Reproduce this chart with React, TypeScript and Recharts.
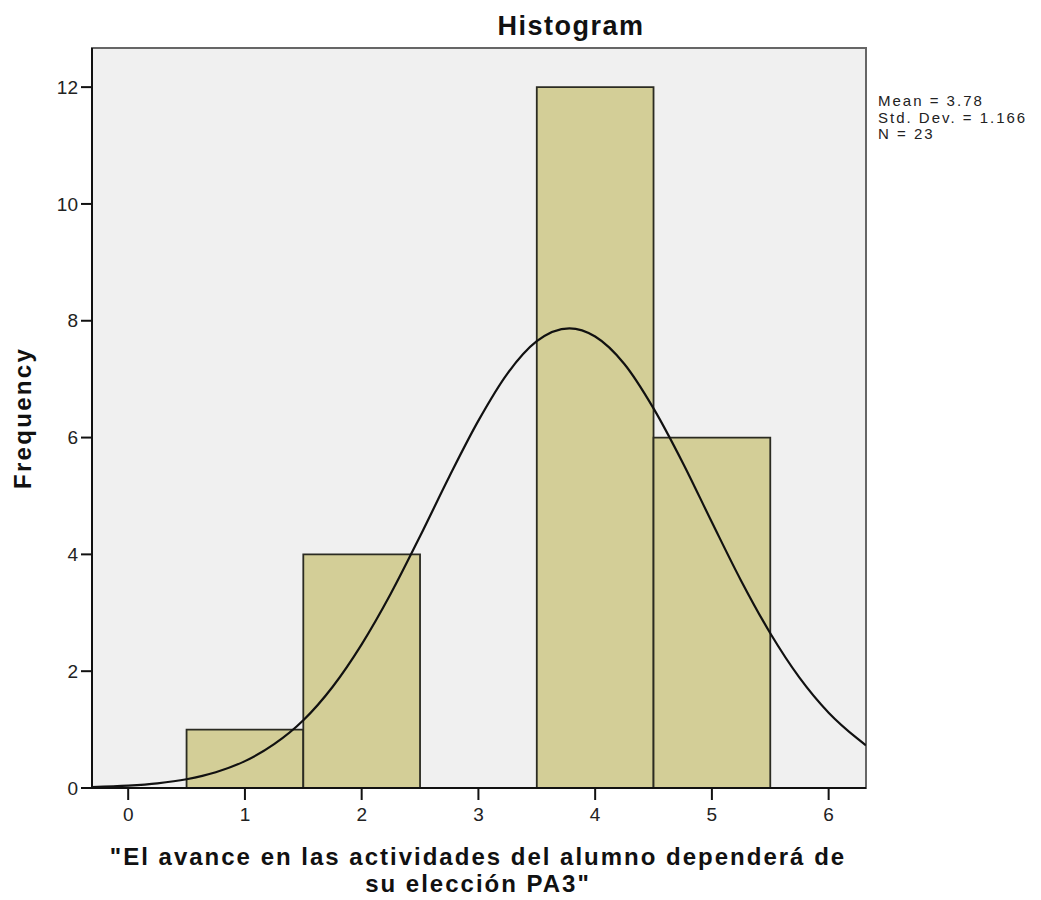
import React from "react";
import {
  ComposedChart,
  Line,
  XAxis,
  YAxis,
  ReferenceArea,
} from "recharts";

// Histogram bins (bin centre, frequency)
const binCenters = [1, 2, 3, 4, 5];
const frequencies = [1, 4, 0, 12, 6];
const binWidth = 1;

// Normal curve (x value, frequency)
const curveX = [
  -0.31, 0, 0.25, 0.5, 0.75, 1, 1.25, 1.5, 1.75, 2, 2.25, 2.5, 2.75, 3, 3.25,
  3.5, 3.78, 4, 4.25, 4.5, 4.75, 5, 5.25, 5.5, 5.75, 6, 6.25, 6.32,
];
const curveY = [
  0.017, 0.041, 0.08, 0.15, 0.27, 0.46, 0.75, 1.16, 1.73, 2.46, 3.33, 4.31,
  5.33, 6.29, 7.1, 7.65, 7.87, 7.73, 7.26, 6.5, 5.57, 4.55, 3.55, 2.65, 1.89,
  1.29, 0.84, 0.73,
];

const xTicks = [0, 1, 2, 3, 4, 5, 6];
const yTicks = [0, 2, 4, 6, 8, 10, 12];
const xDomain: [number, number] = [-0.31, 6.32];
const yDomain: [number, number] = [0, 12.67];

const title = "Histogram";
const xLabelLines = [
  "\"El avance en las actividades del alumno dependerá de",
  "su elección PA3\"",
];
const yLabel = "Frequency";
const statsLines = ["Mean = 3.78", "Std. Dev. = 1.166", "N = 23"];

const curveData = curveX.map((x, i) => ({ x, y: curveY[i] }));

const FONT = "'Liberation Sans', Arial, Helvetica, sans-serif";

export default function App() {
  return (
    <div
      style={{
        position: "absolute",
        left: 0,
        top: 0,
        width: 1041,
        height: 900,
        background: "#ffffff",
        fontFamily: FONT,
      }}
    >
      <ComposedChart
        width={1041}
        height={900}
        data={curveData}
        margin={{ top: 48, right: 175, bottom: 62, left: 32 }}
      >
        <XAxis
          dataKey="x"
          type="number"
          domain={xDomain}
          ticks={xTicks}
          allowDataOverflow
          height={50}
          axisLine={{ stroke: "#111", strokeWidth: 2 }}
          tickLine={{ stroke: "#111", strokeWidth: 2 }}
          tickSize={12}
          tickMargin={8}
          tick={{ fill: "#222", fontSize: 19, fontFamily: FONT }}
        />
        <YAxis
          type="number"
          domain={yDomain}
          ticks={yTicks}
          allowDataOverflow
          width={60}
          axisLine={{ stroke: "#111", strokeWidth: 2 }}
          tickLine={{ stroke: "#111", strokeWidth: 2 }}
          tickSize={11}
          tickMargin={3}
          tick={{ fill: "#222", fontSize: 19, fontFamily: FONT }}
        />
        <ReferenceArea
          x1={xDomain[0]}
          x2={xDomain[1]}
          y1={yDomain[0]}
          y2={yDomain[1]}
          fill="#F0F0F0"
          fillOpacity={1}
          stroke="#666"
          strokeWidth={2}
          ifOverflow="visible"
        />
        {binCenters.map((c, i) =>
          frequencies[i] > 0 ? (
            <ReferenceArea
              key={i}
              x1={c - binWidth / 2}
              x2={c + binWidth / 2}
              y1={0}
              y2={frequencies[i]}
              fill="#D3CE97"
              fillOpacity={1}
              stroke="#2b2b22"
              strokeWidth={1.8}
              ifOverflow="visible"
            />
          ) : null
        )}
        <Line
          dataKey="y"
          type="monotone"
          dot={false}
          activeDot={false}
          stroke="#111"
          strokeWidth={2.2}
          isAnimationActive={false}
        />
      </ComposedChart>
      <svg
        width={1041}
        height={900}
        style={{ position: "absolute", left: 0, top: 0, pointerEvents: "none" }}
      >
        <text
          x={571}
          y={35}
          textAnchor="middle"
          fontFamily={FONT}
          fontWeight="bold"
          fontSize={27}
          letterSpacing={1.5}
          fill="#111"
        >
          {title}
        </text>
        <text
          transform="translate(31,418) rotate(-90)"
          textAnchor="middle"
          fontFamily={FONT}
          fontWeight="bold"
          fontSize={24}
          letterSpacing={2.3}
          fill="#111"
        >
          {yLabel}
        </text>
        {xLabelLines.map((t, i) => (
          <text
            key={i}
            x={478}
            y={865 + i * 27}
            textAnchor="middle"
            fontFamily={FONT}
            fontWeight="bold"
            fontSize={24}
            letterSpacing={2}
            fill="#111"
          >
            {t}
          </text>
        ))}
        {statsLines.map((t, i) => (
          <text
            key={i}
            x={878}
            y={106 + i * 16.5}
            fontFamily={FONT}
            fontSize={15}
            letterSpacing={2}
            fill="#222"
          >
            {t}
          </text>
        ))}
      </svg>
    </div>
  );
}
